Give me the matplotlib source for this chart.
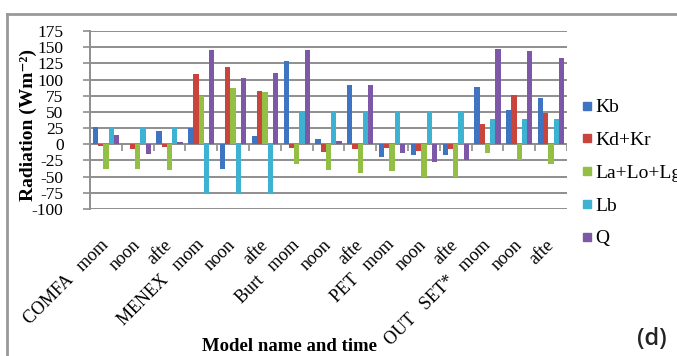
import matplotlib
matplotlib.use("Agg")
import matplotlib.pyplot as plt
import numpy as np
from matplotlib.lines import Line2D

plt.rcParams["axes.unicode_minus"] = False

# categories (model + time of day)
labels = ["COMFA   mom", "noon", "afte",
          "MENEX   mom", "noon", "afte",
          "Burt   mom", "noon", "afte",
          "PET   mom", "noon", "afte",
          "OUT   SET*   mom", "noon", "afte"]

# radiation components (W m-2)
kb = [26, 0, 21, 25, -38, 13, 128, 8, 92, -19, -16, -16, 89, 53, 72]
kd_kr = [-3, -8, -4, 108, 119, 83, -5, -12, -8, -5, -11, -8, 32, 76, 48]
la_lo_lg = [-38, -38, -40, 75, 87, 81, -30, -40, -44, -42, -51, -51, -14, -25, -30]
lb = [26, 26, 26, -75, -75, -75, 50, 50, 50, 50, 50, 50, 39, 39, 39]
q = [14, -15, 3, 145, 103, 110, 145, 5, 92, -14, -28, -25, 147, 144, 134]

series = [("Kb", kb, "#3f74c2"),
          ("Kd+Kr", kd_kr, "#c8443c"),
          ("La+Lo+Lg", la_lo_lg, "#93bf45"),
          ("Lb", lb, "#3eb2d2"),
          ("Q", q, "#7d57a8")]

serif = ["Liberation Serif", "DejaVu Serif"]
grid_col = "#8e8e8e"

fig = plt.figure(figsize=(6.77, 3.56), dpi=100)
ax = fig.add_axes([90 / 677, 1 - 209 / 356, 477 / 677, 178 / 356])

x = np.arange(len(labels))
w = 0.165
for i, (name, vals, col) in enumerate(series):
    ax.bar(x + (i - 2) * w, vals, w, color=col, label=name, zorder=3)

ax.set_xlim(-0.5, len(labels) - 0.5)
ax.set_ylim(-100, 175)
ax.set_yticks(np.arange(-100, 176, 25))
ax.yaxis.grid(True, color=grid_col, lw=1.4, zorder=0)
ax.tick_params(axis="y", length=5, width=1.2, color=grid_col, pad=14,
               labelsize=12.5)
for t in ax.get_yticklabels():
    t.set_family(serif)

# category tick marks on the zero line
bounds = np.arange(0, len(labels) + 1) - 0.5
ax.vlines(bounds, -10, 0, color=grid_col, lw=1.2, zorder=2)
ax.axhline(0, color=grid_col, lw=1.4, zorder=2)

ax.set_xticks(x)
ax.set_xticklabels(labels, rotation=45, ha="right", va="center",
                   rotation_mode="anchor", family=serif, fontsize=13)
ax.tick_params(axis="x", length=0, pad=24)

for s in ["top", "right", "bottom"]:
    ax.spines[s].set_visible(False)
ax.spines["left"].set_color(grid_col)
ax.spines["left"].set_linewidth(1.4)

ax.set_ylabel("Radiation (Wm⁻²)", family=serif, fontweight="bold", fontsize=14)
ax.yaxis.set_label_coords(-0.112, 0.47)

fig.text(290 / 677, 1 - 351 / 356, "Model name and time", family=serif,
         fontweight="bold", fontsize=13.5, ha="center", va="baseline")

handles = [Line2D([], [], marker="s", ls="none", color=c, markersize=5.5)
           for _, _, c in series]
leg = fig.legend(handles, [n for n, _, _ in series], loc="upper left",
                 bbox_to_anchor=(573 / 677, 1 - 91 / 356), frameon=False,
                 prop={"family": serif, "size": 14}, handlelength=0.6,
                 handletextpad=0.15, labelspacing=0.78, borderaxespad=0)

fig.text(652 / 677, 1 - 339 / 356, "(d)", family=["Open Sans", "DejaVu Sans"],
         fontsize=17, fontweight="semibold", color="#222222",
         ha="center", va="center")

# chart frame (top and left edges visible)
fig.add_artist(Line2D([7 / 677, 1], [1 - 14 / 356, 1 - 14 / 356],
                      transform=fig.transFigure, color="#999999", lw=2))
fig.add_artist(Line2D([7 / 677, 7 / 677], [0, 1 - 14 / 356],
                      transform=fig.transFigure, color="#999999", lw=2))

fig.savefig("out.png", dpi=100)
